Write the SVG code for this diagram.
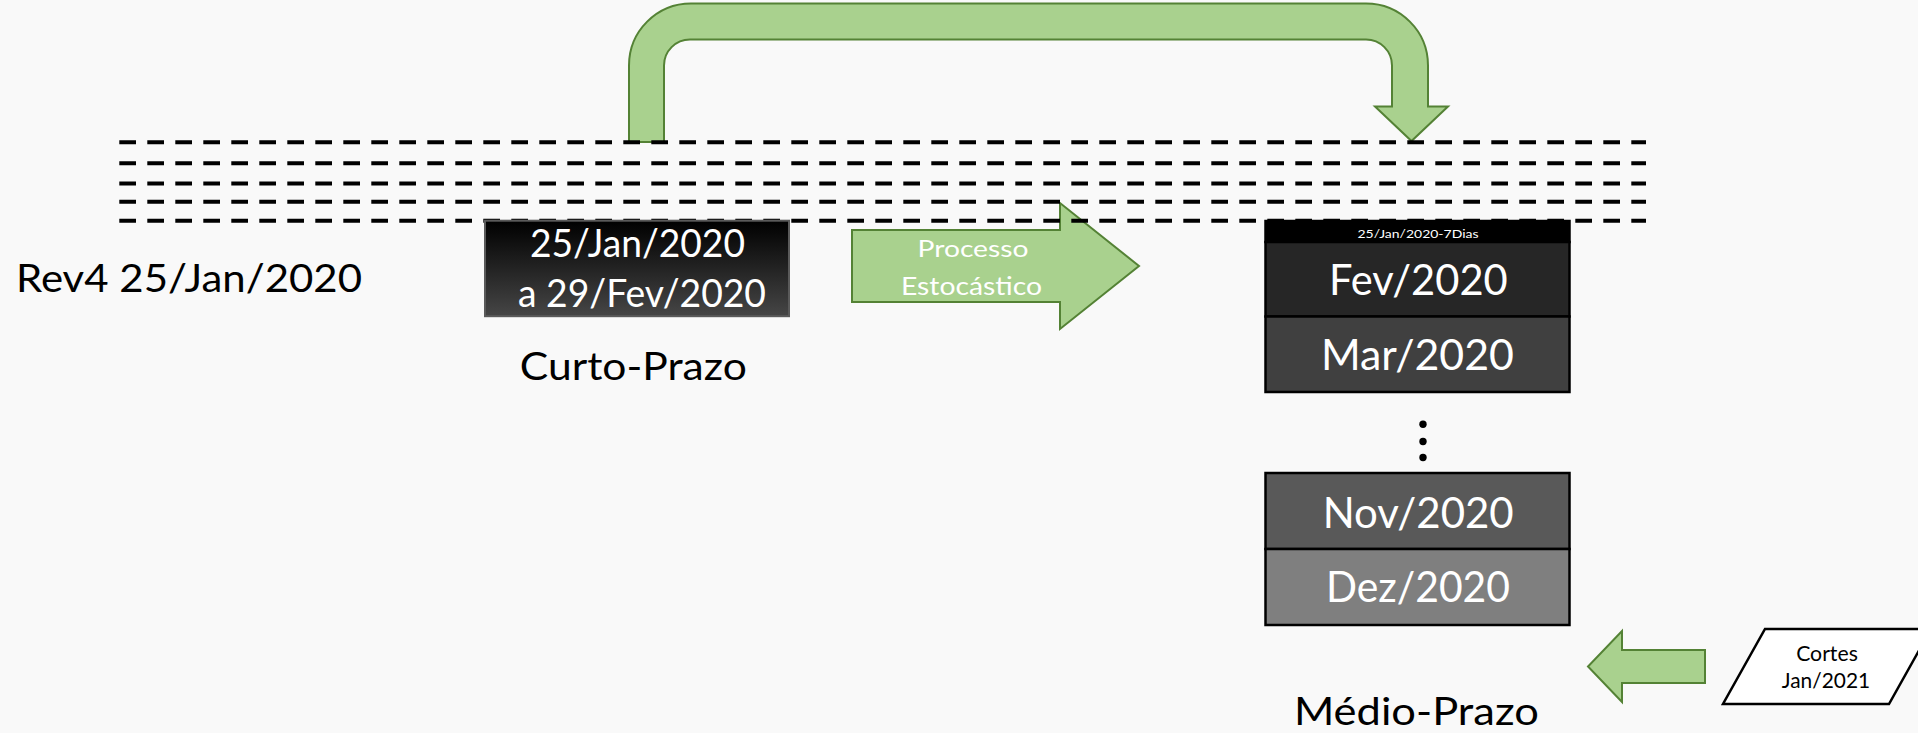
<svg xmlns="http://www.w3.org/2000/svg" width="1918" height="733" viewBox="0 0 1918 733">
<defs>
<linearGradient id="gCurto" x1="0" y1="0" x2="0" y2="1">
<stop offset="0" stop-color="#000000"/>
<stop offset="1" stop-color="#464646"/>
</linearGradient>
<style>
.t{font-family:Lato,"Liberation Sans",sans-serif;}
.w{fill:#ffffff;}
.k{fill:#000000;}
.green{fill:#a9d18e;stroke:#548235;stroke-width:2;stroke-linejoin:miter;}
.dash{stroke:#000000;stroke-width:4;stroke-dasharray:16.7 11.3;fill:none;}
.cell{stroke:#000000;stroke-width:2.5;}
</style>
</defs>
<rect x="0" y="0" width="1918" height="733" fill="#f9f9f9"/>

<g id="connectors">
<path id="uturn" class="green" d="M 629 142 V 65.5 A 62 62 0 0 1 691 3.5 H 1366 A 62 62 0 0 1 1428 65.5 V 106.5 H 1448 L 1411.5 141 L 1375 106.5 H 1392 V 65.5 A 26 26 0 0 0 1366 39.5 H 690 A 26 26 0 0 0 664 65.5 V 142 Z"/>
<polygon id="arrow-processo" class="green" points="852,230 1060,230 1060,203 1139,266 1060,329 1060,302 852,302"/>
<polygon id="arrow-cortes" class="green" points="1705,650 1622,650 1622,631 1588,666.5 1622,702 1622,683 1705,683"/>
</g>

<g id="timeline">
<line class="dash" x1="119.3" y1="142.3" x2="1646" y2="142.3"/>
<line class="dash" x1="119.3" y1="163.3" x2="1646" y2="163.3"/>
<line class="dash" x1="119.3" y1="183.5" x2="1646" y2="183.5"/>
<line class="dash" x1="119.3" y1="201.7" x2="1646" y2="201.7"/>
<line class="dash" x1="119.3" y1="220.7" x2="1646" y2="220.7"/>
</g>

<g id="label-rev4">
<text class="t k" x="16" y="291.5" font-size="39.6" textLength="346" lengthAdjust="spacingAndGlyphs">Rev4 25/Jan/2020</text>
</g>

<g id="node-curto">
<rect x="485" y="220.7" width="304" height="95.5" fill="url(#gCurto)" stroke="#5a5a5a" stroke-width="2"/>
<text class="t w" x="637.5" y="256.7" font-size="37.7" text-anchor="middle" textLength="215" lengthAdjust="spacingAndGlyphs">25/Jan/2020</text>
<text class="t w" x="642" y="307" font-size="37.7" text-anchor="middle" textLength="248" lengthAdjust="spacingAndGlyphs">a 29/Fev/2020</text>
</g>
<g id="label-curto">
<text class="t k" x="633.3" y="380" font-size="39" text-anchor="middle" textLength="227" lengthAdjust="spacingAndGlyphs">Curto-Prazo</text>
</g>

<g id="label-processo">
<text class="t w" x="973" y="257" font-size="24" text-anchor="middle" textLength="111" lengthAdjust="spacingAndGlyphs">Processo</text>
<text class="t w" x="971.5" y="295" font-size="24.5" text-anchor="middle" textLength="141" lengthAdjust="spacingAndGlyphs">Estocástico</text>
</g>

<g id="node-medio">
<rect class="cell" x="1265.5" y="221" width="304" height="21" fill="#000000"/>
<rect class="cell" x="1265.5" y="242" width="304" height="74.5" fill="#262626"/>
<rect class="cell" x="1265.5" y="316.5" width="304" height="75.5" fill="#404040"/>
<rect class="cell" x="1265.5" y="473" width="304" height="76" fill="#595959"/>
<rect class="cell" x="1265.5" y="549" width="304" height="76" fill="#7f7f7f"/>
<text class="t w" x="1418" y="237.7" font-size="12" text-anchor="middle" textLength="121" lengthAdjust="spacingAndGlyphs">25/Jan/2020-7Dias</text>
<text class="t w" x="1418.4" y="295" font-size="41.9" text-anchor="middle" textLength="178.7" lengthAdjust="spacingAndGlyphs">Fev/2020</text>
<text class="t w" x="1417.4" y="370" font-size="41.9" text-anchor="middle" textLength="193" lengthAdjust="spacingAndGlyphs">Mar/2020</text>
<text class="t w" x="1418.2" y="528" font-size="41.9" text-anchor="middle" textLength="191" lengthAdjust="spacingAndGlyphs">Nov/2020</text>
<text class="t w" x="1418" y="602" font-size="41.9" text-anchor="middle" textLength="184" lengthAdjust="spacingAndGlyphs">Dez/2020</text>
</g>

<g id="ellipsis">
<circle cx="1423" cy="424.3" r="3.7" fill="#000000"/>
<circle cx="1423" cy="441.5" r="3.7" fill="#000000"/>
<circle cx="1423" cy="457.5" r="3.7" fill="#000000"/>
</g>

<g id="label-medio">
<text class="t k" x="1416.4" y="725" font-size="39.5" text-anchor="middle" textLength="245" lengthAdjust="spacingAndGlyphs">Médio-Prazo</text>
</g>

<g id="node-cortes">
<polygon points="1765,629 1931,629 1889,704 1723,704" fill="#ffffff" stroke="#000000" stroke-width="2.5"/>
<text class="t k" x="1827" y="661" font-size="21" text-anchor="middle" textLength="61.7" lengthAdjust="spacingAndGlyphs">Cortes</text>
<text class="t k" x="1826" y="688.3" font-size="21" text-anchor="middle" textLength="88.3" lengthAdjust="spacingAndGlyphs">Jan/2021</text>
</g>
</svg>
